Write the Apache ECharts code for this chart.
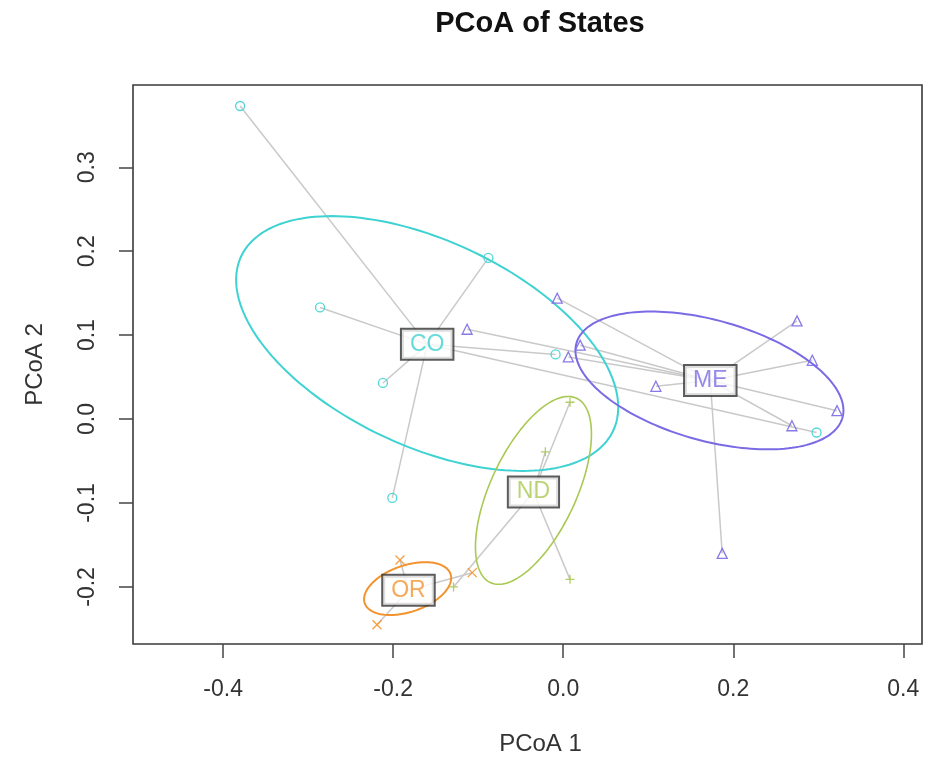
<!DOCTYPE html>
<html>
<head>
<meta charset="utf-8">
<script src="https://cdn.jsdelivr.net/npm/echarts@6.0.0/dist/echarts.min.js"></script>
<style>
  html, body { margin: 0; padding: 0; background: #fff; }
  #chart { width: 939px; height: 767px; }
</style>
</head>
<body>
<div id="chart"></div>
<script>
// groups (states) and their colours
const groupNames = ['CO', 'ME', 'ND', 'OR'];
const groupColors = ['#3fd2d2', '#7a6be4', '#a9c952', '#f2932f'];

// site scores per state [PCoA 1, PCoA 2]
const coPoints = [
  [-0.380, 0.373], [-0.088, 0.192], [-0.286, 0.133], [-0.212, 0.043],
  [-0.201, -0.094], [-0.009, 0.077], [0.298, -0.016]
];
const mePoints = [
  [-0.007, 0.144], [-0.113, 0.107], [0.020, 0.088], [0.006, 0.074],
  [0.275, 0.117], [0.293, 0.070], [0.322, 0.010], [0.269, -0.008],
  [0.109, 0.039], [0.187, -0.160]
];
const ndPoints = [[0.008, 0.020], [-0.021, -0.039], [0.008, -0.191], [-0.129, -0.200]];
const orPoints = [[-0.192, -0.168], [-0.219, -0.245], [-0.107, -0.183]];

// spider centres (label positions)
const groupCenters = [[-0.160, 0.089], [0.173, 0.046], [-0.035, -0.087], [-0.182, -0.204]];

// dispersion ellipses: [cx, cy, sdX, sdY, corr]
const ellipses = [
  [-0.160, 0.090, 0.2247, 0.1518, -0.50],
  [0.172, 0.046, 0.1576, 0.0821, -0.435],
  [-0.035, -0.085, 0.0682, 0.1119, 0.60],
  [-0.183, -0.202, 0.0512, 0.0315, 0.40]
];

const xTicks = [-0.4, -0.2, 0.0, 0.2, 0.4];
const yTicks = [-0.2, -0.1, 0.0, 0.1, 0.2, 0.3];

const allPoints = [coPoints, mePoints, ndPoints, orPoints];
const symbols = [
  'circle',
  'triangle',
  'path://M0,5L10,5M5,0L5,10',
  'path://M0,0L10,10M10,0L0,10'
];

const FONT = 'Liberation Sans, Arial, Helvetica, sans-serif';
const chart = echarts.init(document.getElementById('chart'));

// spider segments: point -> centre
const spiderData = [];
allPoints.forEach((pts, g) => {
  pts.forEach(p => spiderData.push([p[0], p[1], groupCenters[g][0], groupCenters[g][1]]));
});

const series = [];

series.push({
  type: 'custom',
  silent: true,
  z: 1,
  data: spiderData,
  encode: { x: [0, 2], y: [1, 3] },
  renderItem: (params, api) => {
    const p = api.coord([api.value(0), api.value(1)]);
    const c = api.coord([api.value(2), api.value(3)]);
    return {
      type: 'line',
      shape: { x1: c[0], y1: c[1], x2: p[0], y2: p[1] },
      style: { stroke: '#c9c9c9', lineWidth: 1.5 }
    };
  }
});

series.push({
  type: 'custom',
  silent: true,
  z: 2,
  data: ellipses.map((e, i) => e.concat([i])),
  encode: { x: 0, y: 1 },
  renderItem: (params, api) => {
    const cx = api.value(0), cy = api.value(1);
    const sx = api.value(2), sy = api.value(3), r = api.value(4);
    const g = api.value(5);
    const pts = [];
    for (let i = 0; i <= 180; i++) {
      const t = i / 180 * Math.PI * 2;
      pts.push(api.coord([
        cx + sx * Math.cos(t),
        cy + sy * (r * Math.cos(t) + Math.sqrt(1 - r * r) * Math.sin(t))
      ]));
    }
    return {
      type: 'polyline',
      shape: { points: pts },
      style: { fill: 'none', stroke: groupColors[g], lineWidth: g === 2 ? 1.6 : 2 }
    };
  }
});

allPoints.forEach((pts, g) => {
  series.push({
    type: 'scatter',
    name: groupNames[g],
    z: 3,
    silent: true,
    data: pts,
    symbol: symbols[g],
    symbolSize: g === 1 ? 10 : 9,
    itemStyle: { color: 'rgba(0,0,0,0)', borderColor: groupColors[g], borderWidth: 1.3, opacity: 0.9 }
  });
});

// boxed group labels at the spider centres
series.push({
  type: 'scatter',
  z: 5,
  silent: true,
  symbolSize: 2,
  itemStyle: { color: 'rgba(255,255,255,0)' },
  data: groupCenters.map((c, g) => ({
    value: c,
    name: groupNames[g],
    label: { color: groupColors[g] }
  })),
  label: {
    show: true,
    position: 'inside',
    formatter: '{b}',
    fontFamily: FONT,
    fontSize: 23,
    backgroundColor: '#fff',
    borderColor: '#333',
    borderWidth: 2,
    padding: [4, 8, 2, 8]
  }
});

chart.setOption({
  animation: false,
  backgroundColor: '#fff',
  graphic: [{
    type: 'text',
    x: 540,
    y: 24,
    style: {
      text: 'PCoA of States',
      font: 'bold 29px ' + FONT,
      fill: '#111',
      textAlign: 'center',
      textVerticalAlign: 'middle'
    }
  }],
  grid: {
    left: 133, top: 85, right: 17, bottom: 123,
    show: true, borderColor: '#3a3a3a', borderWidth: 1.6,
    containLabel: false
  },
  xAxis: {
    type: 'value',
    min: -0.506, max: 0.422,
    name: 'PCoA 1',
    nameLocation: 'middle',
    nameGap: 88,
    nameTextStyle: { fontFamily: FONT, fontSize: 24, color: '#333', padding: [0, 0, 0, 26] },
    axisLine: { show: false, onZero: false },
    splitLine: { show: false },
    axisTick: { show: true, customValues: xTicks, length: 14, lineStyle: { color: '#444', width: 1.5 } },
    axisLabel: { customValues: xTicks, formatter: v => v.toFixed(1), fontFamily: FONT, fontSize: 23, color: '#333', margin: 34 }
  },
  yAxis: {
    type: 'value',
    min: -0.268, max: 0.398,
    name: 'PCoA 2',
    nameLocation: 'middle',
    nameGap: 86,
    nameRotate: 90,
    nameTextStyle: { fontFamily: FONT, fontSize: 24, color: '#333' },
    axisLine: { show: false, onZero: false },
    splitLine: { show: false },
    axisTick: { show: true, customValues: yTicks, length: 14, lineStyle: { color: '#444', width: 1.5 } },
    axisLabel: { customValues: yTicks, rotate: 90, formatter: v => v.toFixed(1), fontFamily: FONT, fontSize: 23, color: '#333', margin: 34 }
  },
  series: series
});
</script>
</body>
</html>
